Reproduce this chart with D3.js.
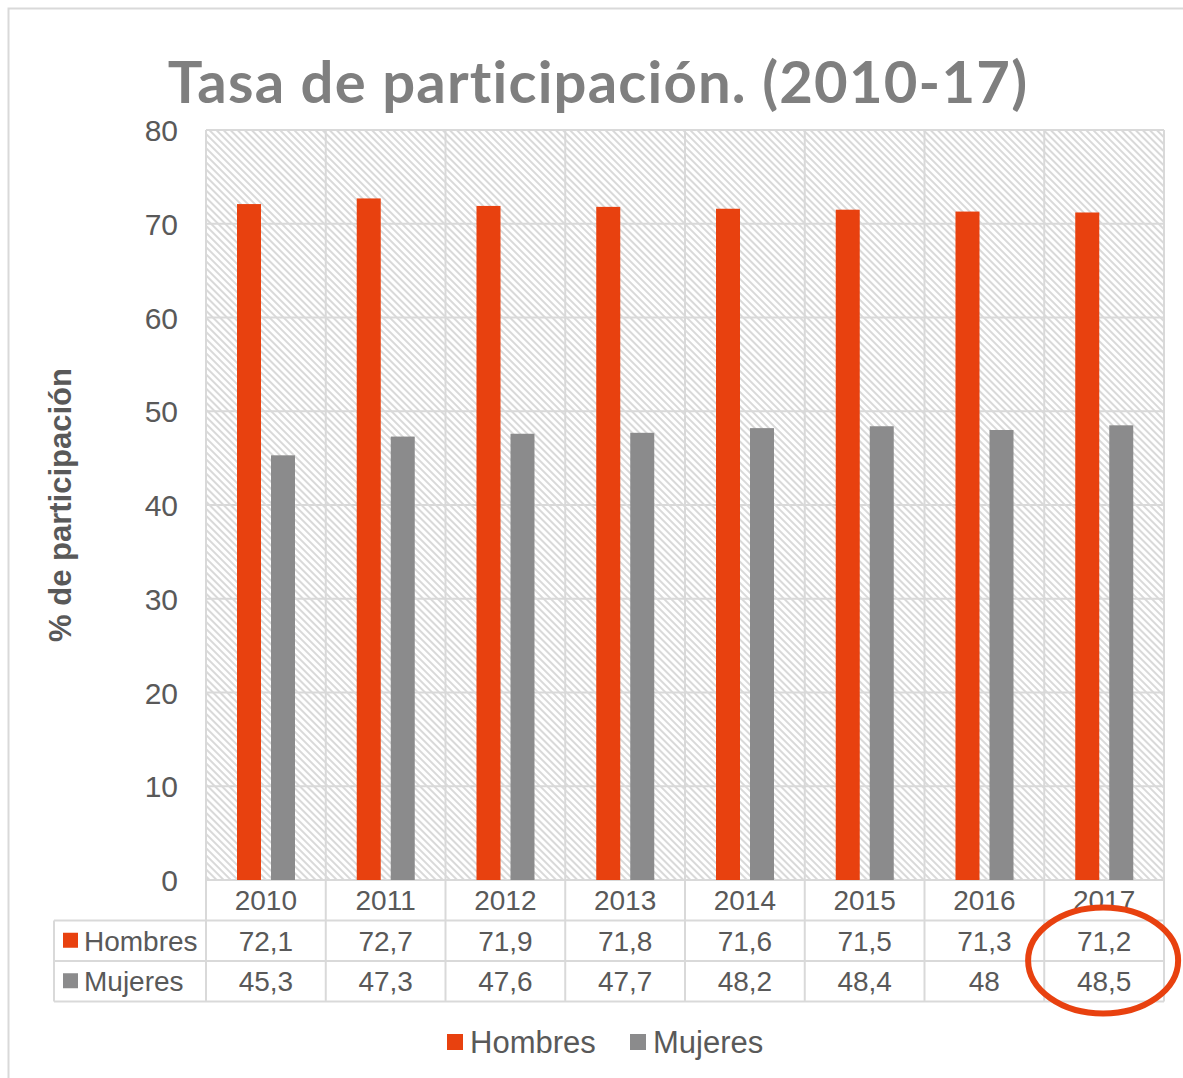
<!DOCTYPE html>
<html>
<head>
<meta charset="utf-8">
<script src="https://cdn.jsdelivr.net/npm/d3@7"></script>
<style>
  body { margin: 0; background: #fff; }
  svg { display: block; }
</style>
</head>
<body>
<svg id="chart"></svg>
<script>
// data
const years = ["2010", "2011", "2012", "2013", "2014", "2015", "2016", "2017"];
const seriesNames = ["Hombres", "Mujeres"];
const hombres = [72.1, 72.7, 71.9, 71.8, 71.6, 71.5, 71.3, 71.2];
const mujeres = [45.3, 47.3, 47.6, 47.7, 48.2, 48.4, 48, 48.5];
const tableLabels = [["72,1", "72,7", "71,9", "71,8", "71,6", "71,5", "71,3", "71,2"],
                     ["45,3", "47,3", "47,6", "47,7", "48,2", "48,4", "48", "48,5"]];
const yTicks = [0, 10, 20, 30, 40, 50, 60, 70, 80];

const W = 1183, H = 1078;
const COLORS = { "Hombres": "#e8410f", "Mujeres": "#8b8b8c" };
const GRID = "#d9d9d9";
const TEXT = "#595959";
const FONT = "Liberation Sans, Arial, sans-serif";

const plot = { left: 206, right: 1164, top: 130, bottom: 880 };
const rowH = 40.5;

const svg = d3.select("#chart").attr("width", W).attr("height", H);

/* hatched background pattern */
const defs = svg.append("defs");
defs.append("pattern")
    .attr("id", "hatch")
    .attr("patternUnits", "userSpaceOnUse")
    .attr("width", 5).attr("height", 5)
    .attr("patternTransform", "rotate(-45)")
    .append("rect")
    .attr("x", 0).attr("y", 0)
    .attr("width", 2).attr("height", 5)
    .attr("fill", "#d9d9d9");

/* outer chart border */
svg.append("rect")
    .attr("x", 8.5).attr("y", 8.5)
    .attr("width", W).attr("height", H)
    .attr("fill", "none")
    .attr("stroke", GRID)
    .attr("stroke-width", 2);

/* Scales */
const x0 = d3.scaleBand().domain(years).range([plot.left, plot.right]).padding(0);
const x1 = d3.scaleBand().domain(seriesNames).range([31, 89]).paddingInner(10 / 34);
const y = d3.scaleLinear().domain([0, 80]).range([plot.bottom, plot.top]);

svg.append("rect")
    .attr("x", plot.left).attr("y", plot.top)
    .attr("width", plot.right - plot.left).attr("height", plot.bottom - plot.top)
    .attr("fill", "url(#hatch)");

/* grid */
const grid = svg.append("g").attr("stroke", GRID).attr("stroke-width", 2);
grid.selectAll(".hline")
    .data(yTicks).enter()
    .append("line")
    .attr("x1", plot.left).attr("x2", plot.right)
    .attr("y1", d => y(d)).attr("y2", d => y(d));
grid.selectAll(".vline")
    .data(years.concat(["end"])).enter()
    .append("line")
    .attr("x1", (d, i) => plot.left + i * x0.step())
    .attr("x2", (d, i) => plot.left + i * x0.step())
    .attr("y1", plot.top)
    .attr("y2", plot.bottom + 3 * rowH);

/* table lines */
[1, 2, 3].forEach(r => {
    grid.append("line")
        .attr("x1", 54).attr("x2", plot.right)
        .attr("y1", plot.bottom + r * rowH).attr("y2", plot.bottom + r * rowH);
});
grid.append("line")
    .attr("x1", 54).attr("x2", 54)
    .attr("y1", plot.bottom + rowH).attr("y2", plot.bottom + 3 * rowH);

/* bars */
const data = years.map((yr, i) => ({ year: yr, values: [
    { name: "Hombres", value: hombres[i] },
    { name: "Mujeres", value: mujeres[i] }
]}));

svg.append("g")
    .selectAll("g")
    .data(data).enter()
    .append("g")
    .attr("transform", d => `translate(${x0(d.year)},0)`)
    .selectAll("rect")
    .data(d => d.values).enter()
    .append("rect")
    .attr("x", d => x1(d.name))
    .attr("width", x1.bandwidth())
    .attr("y", d => y(d.value))
    .attr("height", d => y(0) - y(d.value))
    .attr("fill", d => COLORS[d.name]);

/* y axis */
const yAxis = d3.axisLeft(y).tickValues(yTicks).tickSize(0).tickPadding(0);
const yg = svg.append("g")
    .attr("transform", `translate(178,0)`)
    .call(yAxis);
yg.select(".domain").remove();
yg.selectAll("text")
    .attr("font-family", FONT)
    .attr("font-size", 30)
    .attr("fill", TEXT)
    .attr("dy", "0.35em");

svg.append("text")
    .attr("transform", `translate(71,505) rotate(-90)`)
    .attr("text-anchor", "middle")
    .attr("font-family", FONT)
    .attr("font-weight", "bold")
    .attr("font-size", 31)
    .attr("fill", TEXT)
    .text("% de participación");

/* title */
svg.append("text")
    .attr("x", 598).attr("y", 103)
    .attr("text-anchor", "middle")
    .attr("font-family", "Lato, 'Open Sans', sans-serif")
    .attr("font-weight", "bold")
    .attr("font-size", 58)
    .attr("letter-spacing", 1.2)
    .style("font-variant-ligatures", "none")
    .attr("fill", "#7f7f7f")
    .text("Tasa de participación. (2010-17)");

/* data table */
svg.append("g")
    .selectAll("text")
    .data(years).enter()
    .append("text")
    .attr("x", d => x0(d) + x0.bandwidth() / 2)
    .attr("y", plot.bottom + rowH / 2)
    .attr("dy", "0.36em")
    .attr("text-anchor", "middle")
    .attr("font-family", FONT)
    .attr("font-size", 28)
    .attr("fill", TEXT)
    .text(d => d);

seriesNames.forEach((name, r) => {
    const cy = plot.bottom + rowH * (r + 1) + rowH / 2;
    svg.append("rect")
        .attr("x", 63).attr("y", cy - 8)
        .attr("width", 15).attr("height", 15)
        .attr("fill", COLORS[name]);
    svg.append("text")
        .attr("x", 84).attr("y", cy)
        .attr("dy", "0.36em")
        .attr("font-family", FONT)
        .attr("font-size", 28)
        .attr("fill", TEXT)
        .text(name);
    svg.append("g")
        .selectAll("text")
        .data(tableLabels[r]).enter()
        .append("text")
        .attr("x", (d, i) => x0(years[i]) + x0.bandwidth() / 2)
        .attr("y", cy)
        .attr("dy", "0.36em")
        .attr("text-anchor", "middle")
        .attr("font-family", FONT)
        .attr("font-size", 28)
        .attr("fill", TEXT)
        .text(d => d);
});

/* legend */
const legendX = [447, 630];
seriesNames.forEach((name, i) => {
    svg.append("rect")
        .attr("x", legendX[i]).attr("y", 1034)
        .attr("width", 16).attr("height", 16)
        .attr("fill", COLORS[name]);
    svg.append("text")
        .attr("x", legendX[i] + 23).attr("y", 1042)
        .attr("dy", "0.36em")
        .attr("font-family", FONT)
        .attr("font-size", 31)
        .attr("fill", TEXT)
        .text(name);
});

/* annotation circle around 2017 */
svg.append("ellipse")
    .attr("cx", x0("2017") + x0.bandwidth() / 2 - 1)
    .attr("cy", 960.5)
    .attr("rx", 75).attr("ry", 53)
    .attr("fill", "none")
    .attr("stroke", "#e8410f")
    .attr("stroke-width", 6);
</script>
</body>
</html>
